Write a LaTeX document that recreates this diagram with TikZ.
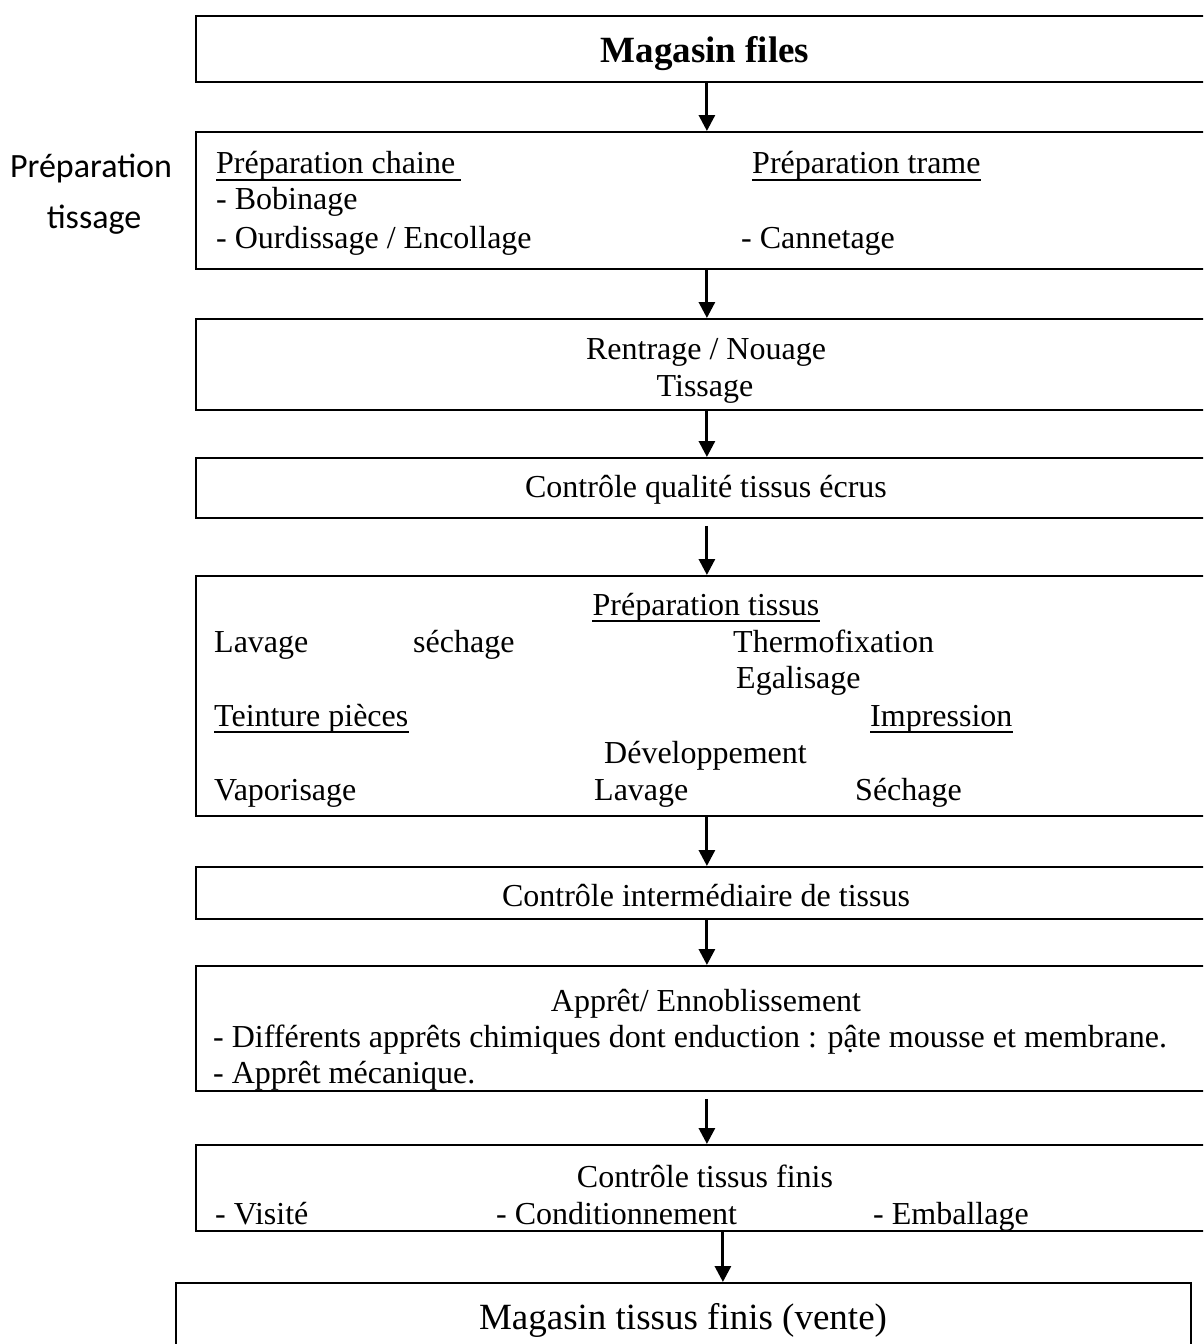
\documentclass[tikz,border=0pt]{standalone}
\usepackage{fontspec}
\setmainfont{Liberation Serif}
\newfontfamily\labelsans{Carlito}
\usetikzlibrary{arrows.meta}

\tikzset{
  box/.style={draw, line width=1.8pt, rectangle, inner sep=0pt, anchor=north west},
  txt/.style={inner sep=0pt, font=\fontsize{32}{36}\selectfont},
  big/.style={inner sep=0pt, font=\fontsize{37}{42}\selectfont},
  side/.style={inner sep=0pt, font=\labelsans\fontsize{34}{40}\selectfont},
  ul/.style={line width=1.6pt},
  arr/.style={line width=3pt, -{Triangle[width=16pt,length=16pt]}}
}

\begin{document}
\begin{tikzpicture}[x=1pt,y=-1pt]
\useasboundingbox (0,0) rectangle (1203,1344);
\clip (0,0) rectangle (1203,1344);

% process boxes (the right edges run past the page)
\node[box, minimum width=1022pt, minimum height=66pt]  (b1) at (195,15)   {};
\node[box, minimum width=1022pt, minimum height=137pt] (b2) at (195,131)  {};
\node[box, minimum width=1022pt, minimum height=91pt]  (b3) at (195,318)  {};
\node[box, minimum width=1022pt, minimum height=60pt]  (b4) at (195,457)  {};
\node[box, minimum width=1022pt, minimum height=240pt] (b5) at (195,575)  {};
\node[box, minimum width=1022pt, minimum height=52pt]  (b6) at (195,866)  {};
\node[box, minimum width=1022pt, minimum height=125pt] (b7) at (195,965)  {};
\node[box, minimum width=1022pt, minimum height=86pt]  (b8) at (195,1144) {};
\node[box, minimum width=1015pt, minimum height=90pt]  (b9) at (175,1282) {};

% side label
\node[side, anchor=base] (s1) at (91,177) {Préparation};
\node[side, anchor=base] (s2) at (94,228) {tissage};

% box 1
\node[big, anchor=base, font=\bfseries\fontsize{37}{42}\selectfont] (t1) at (705,62) {Magasin files};

% box 2
\node[txt, anchor=base west] (pc) at (216,173) {Préparation chaine};
\draw[ul] ([yshift=-7pt]pc.base west) -- ([yshift=-7pt,xshift=6pt]pc.base east);
\node[txt, anchor=base west] (pt) at (752,173) {Préparation trame};
\draw[ul] ([yshift=-7pt]pt.base west) -- ([yshift=-7pt]pt.base east);
\node[txt, anchor=base west] (bo) at (216,209) {- Bobinage};
\node[txt, anchor=base west] (ou) at (216,248) {- Ourdissage / Encollage};
\node[txt, anchor=base west] (ca) at (741,248) {- Cannetage};

% box 3
\node[txt, anchor=base] (rn) at (706,359) {Rentrage / Nouage};
\node[txt, anchor=base] (ti) at (705,396) {Tissage};

% box 4
\node[txt, anchor=base] (cq) at (706,497) {Contrôle qualité tissus écrus};

% box 5
\node[txt, anchor=base] (ptx) at (706,615) {Préparation tissus};
\draw[ul] ([yshift=-6pt]ptx.base west) -- ([yshift=-6pt]ptx.base east);
\node[txt, anchor=base west] (la1) at (214,652) {Lavage};
\node[txt, anchor=base west] (se1) at (413,652) {séchage};
\node[txt, anchor=base west] (th)  at (733,652) {Thermofixation};
\node[txt, anchor=base west] (eg)  at (736,688) {Egalisage};
\node[txt, anchor=base west] (tp)  at (214,726) {Teinture pièces};
\draw[ul] ([yshift=-6pt]tp.base west) -- ([yshift=-6pt]tp.base east);
\node[txt, anchor=base west] (im)  at (870,726) {Impression};
\draw[ul] ([yshift=-6pt]im.base west) -- ([yshift=-6pt]im.base east);
\node[txt, anchor=base west] (dv)  at (604,763) {Développement};
\node[txt, anchor=base west] (va)  at (214,800) {Vaporisage};
\node[txt, anchor=base west] (la2) at (594,800) {Lavage};
\node[txt, anchor=base west] (se2) at (855,800) {Séchage};

% box 6
\node[txt, anchor=base] (ci) at (706,906) {Contrôle intermédiaire de tissus};

% box 7
\node[txt, anchor=base] (ap) at (706,1011) {Apprêt/ Ennoblissement};
\node[txt, anchor=base west] (ap1) at (213,1047) {- Différents apprêts chimiques dont enduction : pậte mousse et membrane.};
\node[txt, anchor=base west] (ap2) at (213,1083) {- Apprêt mécanique.};

% box 8
\node[txt, anchor=base] (cf) at (705,1187) {Contrôle tissus finis};
\node[txt, anchor=base west] (vi) at (215,1224) {- Visité};
\node[txt, anchor=base west] (co) at (496,1224) {- Conditionnement};
\node[txt, anchor=base west] (em) at (873,1224) {- Emballage};

% box 9
\node[big, anchor=base] (mv) at (683,1329) {Magasin tissus finis (vente)};

% connectors
\draw[arr] (b1.south) -- (b2.north);
\draw[arr] (b2.south) -- (b3.north);
\draw[arr] (b3.south) -- (b4.north);
\draw[arr, shorten <=7pt] (b4.south) -- (b5.north);
\draw[arr] (b5.south) -- (b6.north);
\draw[arr] (b6.south) -- (b7.north);
\draw[arr, shorten <=7pt] (b7.south) -- (b8.north);
\coordinate (a8) at ([xshift=16pt]b8.south);
\draw[arr] (a8) -- (a8 |- b9.north);
\end{tikzpicture}
\end{document}
